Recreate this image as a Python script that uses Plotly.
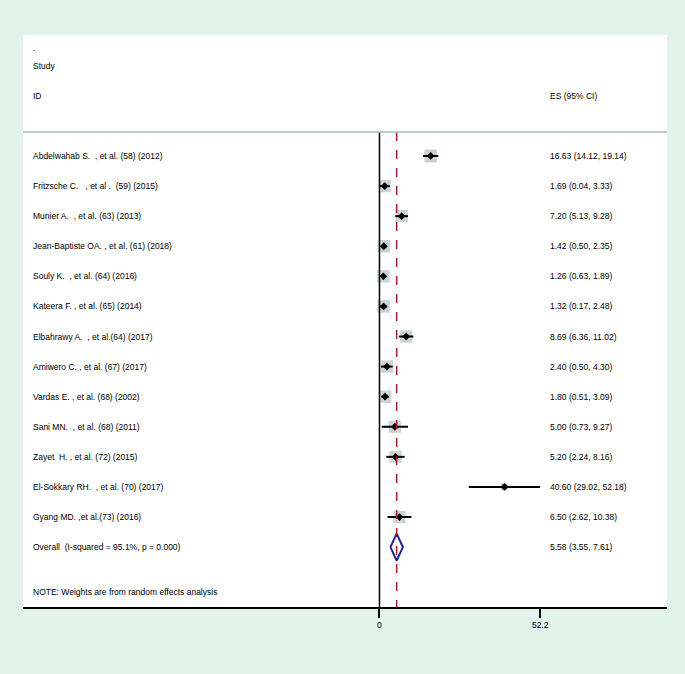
import plotly.graph_objects as go

# Studien, Effektgrößen und Konfidenzintervalle
studies = [
    "Abdelwahab S.  , et al. (58) (2012)",
    "Fritzsche C.   , et al .  (59) (2015)",
    "Munier A.  , et al. (63) (2013)",
    "Jean-Baptiste OA. , et al. (61) (2018)",
    "Souly K.  , et al. (64) (2016)",
    "Kateera F. , et al. (65) (2014)",
    "Elbahrawy A.  , et al.(64) (2017)",
    "Amiwero C. , et al. (67) (2017)",
    "Vardas E. , et al. (68) (2002)",
    "Sani MN.  , et al. (68) (2011)",
    "Zayet  H. , et al. (72) (2015)",
    "El-Sokkary RH.  , et al. (70) (2017)",
    "Gyang MD. ,et al.(73) (2016)",
]
es = [16.63, 1.69, 7.20, 1.42, 1.26, 1.32, 8.69, 2.40, 1.80, 5.00, 5.20, 40.60, 6.50]
lo = [14.12, 0.04, 5.13, 0.50, 0.63, 0.17, 6.36, 0.50, 0.51, 0.73, 2.24, 29.02, 2.62]
hi = [19.14, 3.33, 9.28, 2.35, 1.89, 2.48, 11.02, 4.30, 3.09, 9.27, 8.16, 52.18, 10.38]
weights = [8.4, 7.9, 8.0, 8.0, 8.1, 8.1, 7.9, 7.9, 8.0, 7.5, 7.7, 2.6, 7.5]  # geschätzt

overall_label = "Overall  (I-squared = 95.1%, p = 0.000)"
overall = [5.58, 3.55, 7.61]
x_ticks = [0, 52.2]

mint = "#e2f3ec"
n = len(studies)
rows = list(range(n))

fig = go.Figure()

# Kästchen (Gewichte)
fig.add_trace(go.Scatter(
    x=es, y=rows, mode="markers",
    marker=dict(symbol="square", color="#b3c2bf",
                size=[4.4 * w ** 0.5 for w in weights], line=dict(width=0)),
    hoverinfo="skip"))

# Konfidenzintervalle
for i in rows:
    fig.add_trace(go.Scatter(x=[lo[i], hi[i]], y=[i, i], mode="lines",
                             line=dict(color="black", width=2), hoverinfo="skip"))

# Punktschätzer
fig.add_trace(go.Scatter(x=es, y=rows, mode="markers",
                         marker=dict(symbol="diamond", color="black", size=6),
                         hoverinfo="skip"))

# Linien: Null, Gesamteffekt, Trenner
fig.add_shape(type="line", x0=0, x1=0, y0=-0.8, y1=15.0, line=dict(color="black", width=1.5))
fig.add_shape(type="line", x0=overall[0], x1=overall[0], y0=-0.8, y1=15.0,
              line=dict(color="#a11d2a", width=1.5, dash="dash"))
fig.add_shape(type="line", xref="paper", x0=0, x1=1, y0=-0.8, y1=-0.8,
              line=dict(color="#a9bdbc", width=1.5))

# Overall-Raute
d = 0.45
fig.add_trace(go.Scatter(
    x=[overall[1], overall[0], overall[2], overall[0], overall[1]],
    y=[n, n - d, n, n + d, n], mode="lines",
    line=dict(color="#1f1f99", width=2), hoverinfo="skip"))

font = dict(family="Liberation Sans, Arial", size=8.5, color="black")
ann = []
for i, s in enumerate(studies):
    ann.append(dict(x=0.0124, y=i, text=s))
    ann.append(dict(x=0.8155, y=i, text=f"{es[i]:.2f} ({lo[i]:.2f}, {hi[i]:.2f})"))
ann.append(dict(x=0.0124, y=n, text=overall_label))
ann.append(dict(x=0.8155, y=n, text=f"{overall[0]:.2f} ({overall[1]:.2f}, {overall[2]:.2f})"))
ann.append(dict(x=0.0124, y=14.5, text="NOTE: Weights are from random effects analysis"))
ann.append(dict(x=0.0124, y=-3.6, text="."))
ann.append(dict(x=0.0124, y=-3.0, text="Study"))
ann.append(dict(x=0.0124, y=-2.0, text="ID"))
ann.append(dict(x=0.8155, y=-2.0, text="ES (95% CI)"))
for a in ann:
    a.update(xref="paper", yref="y", xanchor="left", yanchor="middle",
             showarrow=False, font=font)

fig.update_layout(
    width=685, height=674,
    margin=dict(l=23, r=18, t=35, b=67),
    paper_bgcolor=mint, plot_bgcolor="white",
    showlegend=False, annotations=ann,
    xaxis=dict(range=[-115.8, 93.4], tickvals=x_ticks, ticktext=["0", "52.2"],
               ticks="outside", ticklen=9, tickwidth=1.5, tickcolor="black",
               showline=True, linecolor="black", linewidth=2,
               showgrid=False, zeroline=False, tickfont=font),
    yaxis=dict(range=[14.99, -4.02], visible=False, showgrid=False, zeroline=False),
)

fig.write_html("out.html", config={"displayModeBar": False},
               post_script="document.body.style.margin='0';document.body.style.background='%s';" % mint)
